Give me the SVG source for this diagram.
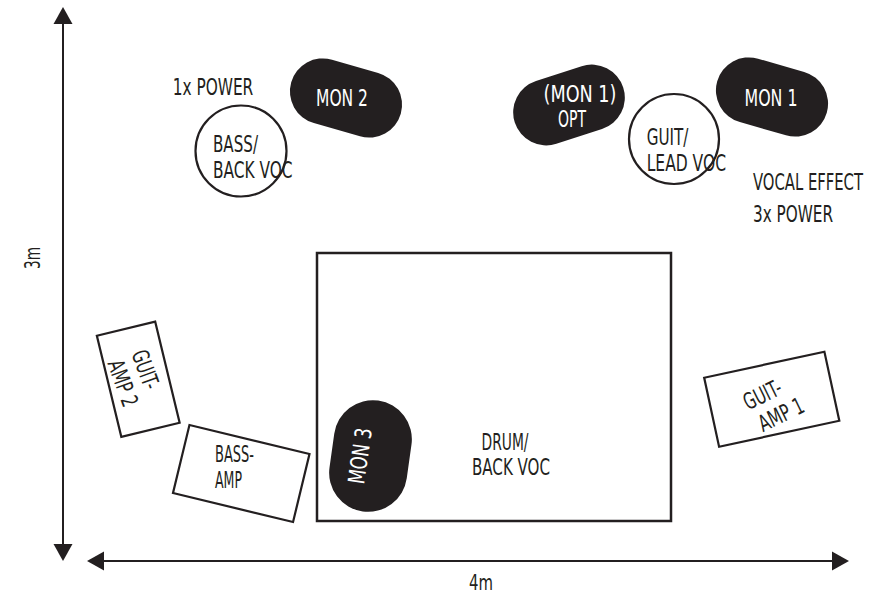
<svg xmlns="http://www.w3.org/2000/svg" width="869" height="596" viewBox="0 0 869 596">
<style>
text{font-family:"DejaVu Sans","Liberation Sans",sans-serif;font-stretch:condensed;font-size:23px;fill:#231f20;}
.w{fill:#ffffff;}
.m{text-anchor:middle;}
.mon{fill:#231f20;stroke:none;}
.ol{fill:#ffffff;stroke:#231f20;stroke-width:2.2;}
.ax{stroke:#231f20;stroke-width:2;fill:none;}
.ah{fill:#231f20;}
</style>
<rect width="869" height="596" fill="#ffffff"/>
<g id="dimensions">
<line class="ax" x1="63" y1="20" x2="63" y2="548"/>
<polygon class="ah" points="63,7 53.5,24 72.5,24"/>
<polygon class="ah" points="63,561 53.5,544 72.5,544"/>
<line class="ax" x1="100" y1="561" x2="836" y2="561"/>
<polygon class="ah" points="87,561 104,551.5 104,570.5"/>
<polygon class="ah" points="849,561 832,551.5 832,570.5"/>
<text class="m" transform="translate(40,258) rotate(-90)" textLength="22" lengthAdjust="spacingAndGlyphs" style="font-size:21px">3m</text>
<text class="m" x="481" y="590" textLength="24" lengthAdjust="spacingAndGlyphs" style="font-size:21px">4m</text>
</g>
<g id="stage">
<rect x="317" y="253" width="354" height="268" fill="none" stroke="#231f20" stroke-width="2.5"/>
<text class="m" x="505" y="450" textLength="47" lengthAdjust="spacingAndGlyphs">DRUM/</text>
<text class="m" x="511" y="475" textLength="78" lengthAdjust="spacingAndGlyphs">BACK VOC</text>
</g>
<g id="mon2">
<rect class="mon" x="-57" y="-33" width="114" height="66" rx="33" transform="translate(346,98) rotate(16)"/>
<text class="m w" x="342" y="106" textLength="52" lengthAdjust="spacingAndGlyphs">MON 2</text>
</g>
<g id="mon1opt">
<rect class="mon" x="-57" y="-33" width="114" height="66" rx="33" transform="translate(569,105) rotate(-18)"/>
<text class="m w" x="580" y="102" textLength="73" lengthAdjust="spacingAndGlyphs">(MON 1)</text>
<text class="m w" x="572" y="127" textLength="28" lengthAdjust="spacingAndGlyphs">OPT</text>
</g>
<g id="mon1">
<rect class="mon" x="-57" y="-33" width="114" height="66" rx="33" transform="translate(772,97) rotate(16)"/>
<text class="m w" x="771" y="106" textLength="53" lengthAdjust="spacingAndGlyphs">MON 1</text>
</g>
<g id="mon3">
<rect class="mon" x="-39" y="-56" width="78" height="112" rx="39" transform="translate(370.5,456) rotate(8)"/>
<text class="m w" transform="translate(368,457) rotate(-82)" textLength="56" lengthAdjust="spacingAndGlyphs">MON 3</text>
</g>
<g id="bass">
<circle class="ol" cx="241" cy="151" r="45.5" fill="none"/>
<text x="172.7" y="95" textLength="80.6" lengthAdjust="spacingAndGlyphs">1x POWER</text>
<text x="213" y="152" textLength="45" lengthAdjust="spacingAndGlyphs">BASS/</text>
<text x="213" y="178" textLength="79.5" lengthAdjust="spacingAndGlyphs">BACK VOC</text>
</g>
<g id="guit">
<circle class="ol" cx="674" cy="139" r="45" fill="none"/>
<text x="646.7" y="145" textLength="41.7" lengthAdjust="spacingAndGlyphs">GUIT/</text>
<text x="646.7" y="171" textLength="79.3" lengthAdjust="spacingAndGlyphs">LEAD VOC</text>
<text x="753" y="190" textLength="110" lengthAdjust="spacingAndGlyphs">VOCAL EFFECT</text>
<text x="753" y="222" textLength="80" lengthAdjust="spacingAndGlyphs">3x POWER</text>
</g>
<g id="guitamp2">
<rect class="ol" x="-30" y="-52" width="60" height="104" transform="translate(138.25,379.25) rotate(-13.6)"/>
<g transform="translate(134,377) rotate(70)">
<text class="m" x="-3" y="-5.5" textLength="40" lengthAdjust="spacingAndGlyphs">GUIT-</text>
<text class="m" x="2" y="20.5" textLength="48" lengthAdjust="spacingAndGlyphs">AMP 2</text>
</g>
</g>
<g id="bassamp">
<rect class="ol" x="-61.75" y="-35" width="123.5" height="70" transform="translate(241.25,473.5) rotate(13.6)"/>
<text x="215" y="462" textLength="39" lengthAdjust="spacingAndGlyphs">BASS-</text>
<text x="215" y="488" textLength="27" lengthAdjust="spacingAndGlyphs">AMP</text>
</g>
<g id="guitamp1">
<rect class="ol" x="-61.5" y="-35.3" width="123" height="70.6" transform="translate(771.75,399.25) rotate(-12.2)"/>
<g transform="translate(772,405) rotate(-26)">
<text class="m" x="-4" y="-5.5" textLength="40" lengthAdjust="spacingAndGlyphs">GUIT-</text>
<text class="m" x="4" y="20.5" textLength="48" lengthAdjust="spacingAndGlyphs">AMP 1</text>
</g>
</g>
<g id="connectors"></g>
</svg>
